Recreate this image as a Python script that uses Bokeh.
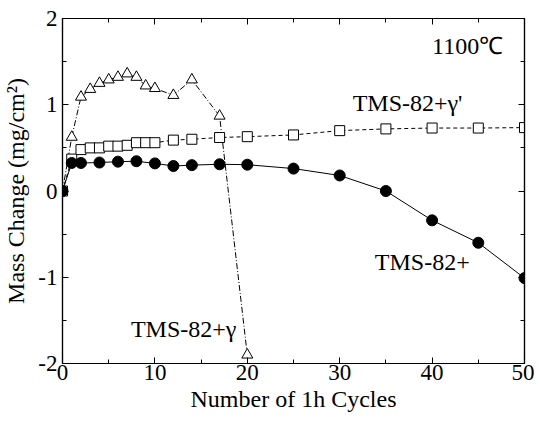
from bokeh.plotting import figure
from bokeh.models import LinearAxis, FixedTicker, Range1d
from bokeh.embed import file_html
from bokeh.resources import INLINE
from bokeh.core.properties import value

# TMS-82+ (filled circles, solid line)
x_base = [0, 1, 2, 4, 6, 8, 10, 12, 14, 17, 20, 25, 30, 35, 40, 45, 50]
y_base = [0, 0.325, 0.325, 0.33, 0.34, 0.345, 0.32, 0.29, 0.30, 0.31, 0.305, 0.26, 0.18, 0.0, -0.34, -0.60, -1.01]

# TMS-82+gamma' (open squares, dashed line)
x_gp = [0, 1, 2, 3, 4, 5, 6, 7, 8, 9, 10, 12, 14, 17, 20, 25, 30, 35, 40, 45, 50]
y_gp = [0, 0.37, 0.48, 0.50, 0.50, 0.52, 0.52, 0.53, 0.56, 0.56, 0.56, 0.59, 0.60, 0.62, 0.63, 0.65, 0.70, 0.72, 0.73, 0.73, 0.735]

# TMS-82+gamma (open triangles, dash-dot line)
x_g = [0, 1, 2, 3, 4, 5, 6, 7, 8, 9, 10, 12, 14, 17, 20]
y_g = [0, 0.625, 1.09, 1.18, 1.25, 1.29, 1.32, 1.36, 1.32, 1.22, 1.19, 1.11, 1.29, 0.87, -1.9]

x_ticks = [0, 10, 20, 30, 40, 50]
x_minor = [5, 15, 25, 35, 45]
y_ticks = [-2, -1, 0, 1, 2]
y_minor = [-1.5, -0.5, 0.5, 1.5]
y_tick_labels = {-2: "-2", -1: "-1", 0: "0", 1: "1", 2: "2"}

labels_text = ["1100\u2103", "TMS-82+\u03b3'", "TMS-82+", "TMS-82+\u03b3"]
labels_x = [40.0, 31.4, 33.8, 7.4]
labels_y = [1.68, 1.02, -0.82, -1.6]

FONT = "Liberation Serif"

p = figure(output_backend="svg", toolbar_location=None,
           frame_width=462, frame_height=345,
           x_range=Range1d(0, 50), y_range=Range1d(-2, 2),
           min_border_left=60, min_border_right=10, min_border_top=18, min_border_bottom=50,
           x_axis_label="Number of 1h Cycles", y_axis_label="Mass Change (mg/cm\u00b2)")

p.xgrid.visible = False
p.ygrid.visible = False
p.outline_line_color = "black"
p.outline_line_width = 1.2
p.background_fill_color = "white"
p.border_fill_color = "white"

def style_axis(ax, ticks, minor, show_labels=True):
    ax.ticker = FixedTicker(ticks=ticks, minor_ticks=minor)
    ax.major_tick_in = 6
    ax.major_tick_out = 0
    ax.minor_tick_in = 4
    ax.minor_tick_out = 0
    ax.axis_line_color = "black"
    ax.axis_line_width = 1.2
    ax.major_tick_line_color = "black"
    ax.minor_tick_line_color = "black"
    ax.major_label_text_font = FONT
    ax.major_label_text_color = "black"
    ax.axis_label_text_font = FONT
    ax.axis_label_text_font_style = "normal"
    ax.axis_label_text_color = "black"
    ax.axis_label_text_font_size = "24px"
    if show_labels:
        ax.major_label_text_font_size = "23px"
    else:
        ax.major_label_overrides = {t: "" for t in ticks}
        ax.major_label_text_font_size = "1px"
        ax.major_label_standoff = 0

style_axis(p.xaxis[0], x_ticks, x_minor)
style_axis(p.yaxis[0], y_ticks, y_minor)
p.yaxis[0].major_label_overrides = y_tick_labels
p.xaxis[0].major_label_standoff = 1
p.xaxis[0].axis_label_standoff = 3
p.yaxis[0].major_label_standoff = 5
p.yaxis[0].axis_label_standoff = 6

top = LinearAxis()
style_axis(top, x_ticks, x_minor, show_labels=False)
p.add_layout(top, "above")
right = LinearAxis()
style_axis(right, y_ticks, y_minor, show_labels=False)
p.add_layout(right, "right")

# lines
p.line(x_g, y_g, line_color="black", line_width=1, line_dash="6 2 1 2")
p.line(x_gp, y_gp, line_color="black", line_width=1, line_dash="4 3")
p.line(x_base, y_base, line_color="black", line_width=1)

# markers
p.scatter(x_g, y_g, marker="triangle", size=11, fill_color="white", line_color="black", line_width=1)
p.scatter(x_gp, y_gp, marker="square", size=10, fill_color="white", line_color="black", line_width=1)
p.scatter(x_base, y_base, marker="circle", size=11, fill_color="black", line_color="black")

p.text(labels_x, labels_y, text=labels_text, text_font=value(FONT), text_font_size="24px",
       text_color="black", text_baseline="middle", text_align="left")

open("out.html", "w").write(file_html(p, INLINE))
